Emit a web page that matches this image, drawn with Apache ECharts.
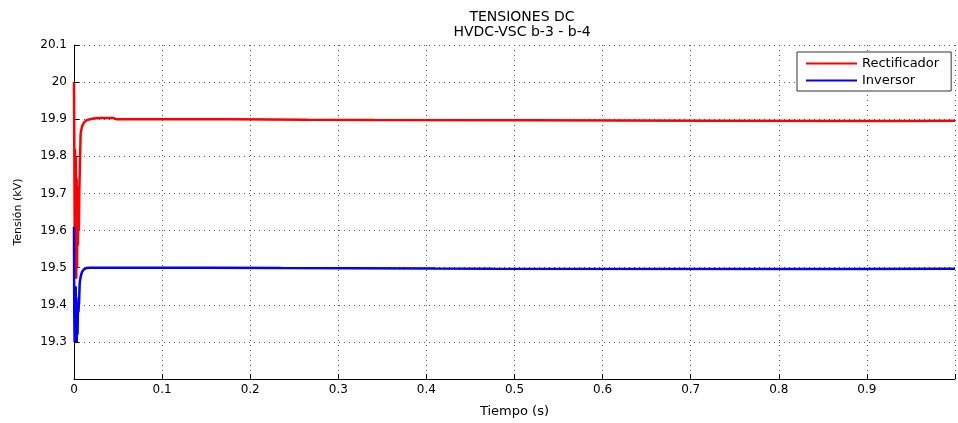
<!DOCTYPE html>
<html>
<head>
<meta charset="utf-8">
<script src="https://cdn.jsdelivr.net/npm/echarts@6/dist/echarts.min.js"></script>
<style>
  html, body { margin: 0; padding: 0; background: #fff; }
  #chart { width: 958px; height: 423px; }
</style>
</head>
<body>
<div id="chart"></div>
<script>
// DC voltages of the HVDC-VSC link between buses b-3 and b-4
const titleLines = ['TENSIONES DC', 'HVDC-VSC b-3 - b-4'];
const seriesNames = ['Rectificador', 'Inversor'];
const xTicks = [0, 0.1, 0.2, 0.3, 0.4, 0.5, 0.6, 0.7, 0.8, 0.9, 1.0];
const yTicks = [19.2, 19.3, 19.4, 19.5, 19.6, 19.7, 19.8, 19.9, 20.0, 20.1];

// Rectifier side: time (s) and voltage (kV)
const rectT = [0, 0.0003, 0.0008, 0.0012, 0.0017, 0.0021, 0.0026, 0.0030, 0.0035, 0.0040,
  0.0045, 0.0050, 0.0055, 0.0060, 0.0068, 0.0075, 0.009, 0.011, 0.014, 0.018,
  0.022, 0.030, 0.045, 0.048,
  0.180, 0.180, 0.265, 0.265, 0.340, 0.340, 0.520, 0.520, 0.720, 0.720, 0.930, 0.930, 1.0];
const rectV = [20.0, 19.84, 19.60, 19.82, 19.50, 19.80, 19.47, 19.74, 19.50, 19.72,
  19.56, 19.70, 19.60, 19.70, 19.70, 19.86, 19.88, 19.89, 19.897, 19.900,
  19.902, 19.903, 19.903, 19.900,
  19.900, 19.8985, 19.8985, 19.898, 19.898, 19.897, 19.897, 19.896, 19.896, 19.8955, 19.8955, 19.896, 19.896];

// Inverter side: time (s) and voltage (kV)
const invT = [0, 0.0003, 0.0007, 0.0011, 0.0015, 0.0019, 0.0023, 0.0027, 0.0031, 0.0035,
  0.0040, 0.0045, 0.0050, 0.0058, 0.0065, 0.0075, 0.009, 0.011, 0.014, 0.018,
  0.155, 0.155, 0.235, 0.235, 0.315, 0.315, 0.410, 0.410, 0.475, 0.475, 0.870, 0.870, 1.0];
const invV = [19.61, 19.38, 19.30, 19.44, 19.30, 19.45, 19.30, 19.42, 19.30, 19.40,
  19.32, 19.40, 19.38, 19.41, 19.46, 19.475, 19.488, 19.495, 19.499, 19.500,
  19.500, 19.499, 19.499, 19.4985, 19.4985, 19.4975, 19.4975, 19.497, 19.497, 19.4965, 19.4965, 19.497, 19.497];

const seriesColors = ['#ff0000', '#0000ff'];
const FONT = '"DejaVu Sans", "Liberation Sans", Arial, sans-serif';

const pairs = (t, v) => t.map((x, i) => [x, v[i]]);

const chart = echarts.init(document.getElementById('chart'), null, { renderer: 'canvas' });

const gridDots = { show: true, lineStyle: { color: '#555', width: 1, type: [1, 4] } };

chart.setOption({
  animation: false,
  backgroundColor: '#ffffff',
  title: {
    text: titleLines.join('\n'),
    left: 517,
    top: 5,
    textAlign: 'center',
    textStyle: { fontFamily: FONT, fontSize: 14, fontWeight: 'normal', color: '#000', lineHeight: 15 }
  },
  legend: {
    data: seriesNames,
    orient: 'vertical',
    left: 797,
    top: 52,
    icon: 'rect',
    itemWidth: 51,
    itemHeight: 2,
    itemGap: 2,
    padding: [4, 12, 3, 9],
    borderColor: '#333',
    borderWidth: 1,
    backgroundColor: '#fff',
    textStyle: { fontFamily: FONT, fontSize: 13, color: '#000', lineHeight: 15 }
  },
  grid: { left: 74, top: 45, width: 886, height: 341, containLabel: false },
  xAxis: {
    type: 'value',
    min: xTicks[0],
    max: xTicks[xTicks.length - 1],
    interval: 0.1,
    name: 'Tiempo (s)',
    nameLocation: 'middle',
    nameGap: 26,
    nameTextStyle: { fontFamily: FONT, fontSize: 13, color: '#000' },
    axisLine: { show: true, onZero: false, lineStyle: { color: '#000', width: 1 } },
    axisTick: { show: true, inside: true, length: 5, lineStyle: { color: '#000' } },
    axisLabel: {
      fontFamily: FONT, fontSize: 12, color: '#000', margin: 5,
      formatter: v => {
        const r = Math.round(v * 10) / 10;
        return xTicks.indexOf(r) >= 0 && r < 1 ? String(r) : '';
      }
    },
    splitLine: gridDots
  },
  yAxis: {
    type: 'value',
    min: yTicks[0],
    max: yTicks[yTicks.length - 1],
    interval: 0.1,
    name: 'Tensión (kV)',
    nameLocation: 'middle',
    nameGap: 50,
    nameTextStyle: { fontFamily: FONT, fontSize: 11, color: '#000' },
    axisLine: { show: true, onZero: false, lineStyle: { color: '#000', width: 1 } },
    axisTick: { show: true, inside: true, length: 5, lineStyle: { color: '#000' } },
    axisLabel: {
      fontFamily: FONT, fontSize: 12, color: '#000', margin: 7,
      formatter: v => {
        const r = Math.round(v * 10) / 10;
        return r > yTicks[0] + 0.05 ? String(r) : '';
      }
    },
    splitLine: gridDots
  },
  series: [
    {
      name: seriesNames[0],
      type: 'line',
      data: pairs(rectT, rectV),
      showSymbol: false,
      symbol: 'none',
      color: seriesColors[0],
      lineStyle: { color: seriesColors[0], width: 2.5 },
      z: 3
    },
    {
      name: seriesNames[1],
      type: 'line',
      data: pairs(invT, invV),
      showSymbol: false,
      symbol: 'none',
      color: seriesColors[1],
      lineStyle: { color: seriesColors[1], width: 2.5 },
      z: 4
    }
  ]
});
</script>
</body>
</html>
